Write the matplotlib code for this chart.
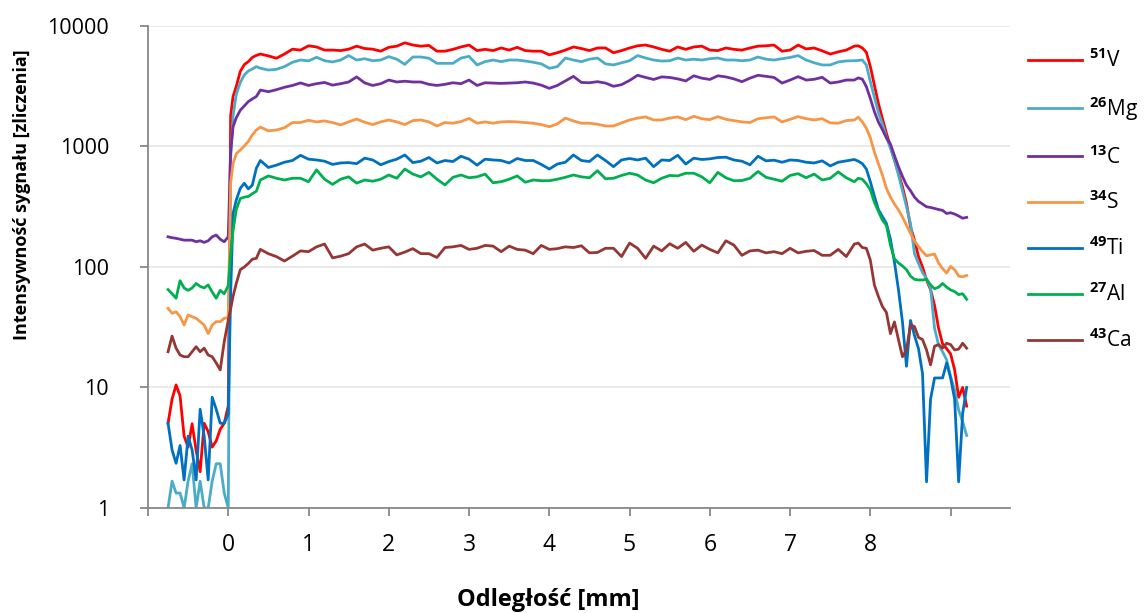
import matplotlib.pyplot as plt
from matplotlib.ticker import NullLocator

# distance along the ablation line [mm]
x_mm = [-0.75, -0.70, -0.65, -0.60, -0.55, -0.50, -0.45, -0.40, -0.35, -0.30, -0.25, -0.20, -0.15, -0.10, -0.05, 0.00,
        0.03, 0.06, 0.10, 0.15, 0.20, 0.25, 0.30, 0.35, 0.40,
        0.5, 0.6, 0.7, 0.8, 0.9, 1.0, 1.1, 1.2, 1.3, 1.4, 1.5, 1.6, 1.7, 1.8, 1.9, 2.0, 2.1, 2.2, 2.3, 2.4, 2.5, 2.6,
        2.7, 2.8, 2.9, 3.0, 3.1, 3.2, 3.3, 3.4, 3.5, 3.6, 3.7, 3.8, 3.9, 4.0, 4.1, 4.2, 4.3, 4.4, 4.5, 4.6,
        4.7, 4.8, 4.9, 5.0, 5.1, 5.2, 5.3, 5.4, 5.5, 5.6, 5.7, 5.8, 5.9, 6.0, 6.1, 6.2, 6.3, 6.4, 6.5, 6.6,
        6.7, 6.8, 6.9, 7.0, 7.1, 7.2, 7.3, 7.4, 7.5, 7.6, 7.7, 7.8,
        7.85, 7.90, 7.95, 8.00, 8.05, 8.10, 8.15, 8.20, 8.25, 8.30, 8.35, 8.40, 8.45, 8.50,
        8.55, 8.60, 8.65, 8.70, 8.75, 8.80, 8.85, 8.90, 8.95, 9.00, 9.05, 9.10, 9.15, 9.20]

v51 = [5.05, 8.0, 10.5, 8.5, 3.95, 3.2, 5.0, 3.0, 2.0, 5.05, 4.3, 3.2, 3.6, 4.5, 5.05, 7,
       1800, 2600, 3150, 4200, 4780, 5060, 5480, 5700, 5850,
       5650, 5400, 5850, 6420, 6310, 6850, 6700, 6310, 6310, 6250, 6420, 6800, 6500, 6420, 6180, 6650, 6800, 7250, 6950, 6800, 6900, 6180,
       6180, 6400, 6700, 6950, 6250, 6400, 6250, 6570, 6310, 6650, 6250, 6180, 6180, 5760, 6000, 6310, 6700, 6500, 6250, 6570,
       6570, 6000, 6250, 6570, 6850, 6950, 6700, 6400, 6180, 6700, 6400, 6700, 6800, 6310, 6250, 6570, 6400, 6310, 6570, 6800,
       6850, 6950, 6180, 6310, 6950, 6450, 6570, 6220, 5850, 6100, 6310, 6800,
       6850, 6570, 6050, 4600, 3240, 2280, 1710, 1290, 995, 772, 600, 464, 338, 216,
       167, 122, 100, 78, 65, 48, 31, 23, 21, 19, 14, 8.3, 10, 7]

mg26 = [1.0, 1.67, 1.33, 1.33, 1.0, 1.67, 2.33, 1.0, 1.67, 1.0, 1.0, 1.67, 2.33, 2.33, 1.33, 1.0,
        800, 1800, 2700, 3400, 3920, 4230, 4400, 4600, 4460,
        4310, 4370, 4600, 5000, 5220, 5130, 5500, 5150, 5030, 5220, 5680, 5220, 5350, 5150, 5220, 5570, 5300, 4800, 5530, 5530, 5400, 4900,
        4900, 4900, 5420, 5600, 4750, 5060, 5220, 5060, 5220, 5220, 5120, 5000, 4850, 4460, 4600, 5420, 5220, 5060, 5300, 5420,
        4850, 4750, 4950, 5150, 5680, 5420, 5220, 5120, 5150, 5420, 5220, 5300, 5220, 5350, 5420, 5220, 5220, 5150, 5220, 5530,
        5300, 5220, 5350, 5480, 5680, 5220, 4950, 4750, 4750, 5030, 5130, 5150,
        5180, 5220, 4750, 3450, 2570, 1920, 1540, 1190, 970, 772, 580, 430, 317, 230,
        129, 107, 90, 80, 67, 31, 22.5, 19.8, 17, 12.3, 9.5, 6.5, 5.2, 4.0]

c13 = [178, 175, 173, 170, 167, 167, 167, 162, 165, 160, 165, 178, 184, 170, 162, 178,
       900, 1460, 1730, 2000, 2170, 2360, 2480, 2600, 2940,
       2850, 2960, 3100, 3210, 3370, 3210, 3320, 3400, 3230, 3320, 3430, 3780, 3370, 3210, 3320, 3560, 3430, 3480, 3430, 3430, 3280, 3210,
       3280, 3380, 3320, 3560, 3210, 3380, 3360, 3340, 3360, 3380, 3430, 3360, 3230, 3040, 3210, 3500, 3820, 3400, 3380, 3450,
       3360, 3160, 3260, 3530, 3900, 3740, 3600, 3780, 3740, 3640, 3500, 3860, 3690, 3600, 3860, 3780, 3640, 3450, 3690, 3900,
       3820, 3740, 3360, 3560, 3800, 3560, 3610, 3750, 3360, 3430, 3560, 3560,
       3710, 3620, 3140, 2500, 1950, 1600, 1380, 1180, 1050, 840, 680, 565, 478, 430,
       380, 350, 333, 316, 312, 306, 300, 295, 278, 282, 275, 265, 254, 258]

s34 = [45.4, 41.3, 42.5, 38.7, 33, 40, 38.7, 37.5, 35.2, 33, 28, 33, 35.2, 35.2, 37.5, 38,
       500, 720, 870, 935, 1010, 1100, 1250, 1370, 1450,
       1350, 1370, 1430, 1580, 1580, 1650, 1600, 1630, 1580, 1510, 1600, 1690, 1590, 1520, 1600, 1660, 1600, 1520, 1640, 1660, 1600, 1480,
       1580, 1560, 1610, 1710, 1560, 1600, 1560, 1600, 1610, 1600, 1580, 1560, 1520, 1460, 1540, 1720, 1630, 1560, 1560, 1530,
       1480, 1480, 1570, 1660, 1720, 1760, 1660, 1660, 1720, 1760, 1670, 1780, 1700, 1670, 1770, 1680, 1640, 1600, 1580, 1700,
       1730, 1760, 1600, 1680, 1770, 1700, 1660, 1700, 1570, 1560, 1640, 1660,
       1750, 1600, 1420, 1180, 900, 720, 580, 450, 380, 333, 298, 260, 222, 190,
       165, 148, 134, 124, 126, 128, 108, 97, 89, 101, 95, 84, 83, 85]

ti49 = [5.05, 3.03, 2.35, 3.3, 1.71, 3.95, 3.03, 1.71, 6.6, 3.95, 1.71, 8.3, 6.6, 5.05, 5.05, 6,
        60, 278, 360, 450, 495, 445, 478, 660, 765,
        670, 700, 740, 765, 845, 785, 773, 755, 710, 730, 735, 720, 800, 773, 705, 750, 785, 850, 735, 755, 810, 730,
        765, 750, 830, 785, 700, 785, 773, 765, 730, 795, 765, 765, 710, 650, 715, 740, 850, 765, 750, 850,
        765, 680, 773, 795, 773, 800, 680, 773, 765, 845, 715, 800, 780, 790, 810, 815, 773, 755, 705, 830,
        760, 770, 740, 773, 765, 740, 730, 760, 690, 740, 760, 780,
        755, 720, 650, 510, 387, 300, 262, 230, 170, 110, 65, 35, 15, 36,
        27, 21, 13, 1.65, 8, 12, 12, 12, 16, 12, 8, 1.65, 6.1, 10]

al27 = [65, 60, 55, 77, 67, 64, 67, 73, 69, 67, 71, 62, 55, 64, 60, 70,
        130, 200, 300, 370, 380, 385, 406, 425, 527,
        570, 545, 527, 545, 545, 510, 640, 535, 485, 535, 560, 496, 527, 515, 535, 580, 545, 650, 590, 560, 610, 535,
        480, 555, 580, 550, 560, 590, 500, 510, 535, 570, 505, 527, 520, 520, 535, 555, 580, 560, 550, 630,
        540, 545, 575, 600, 580, 527, 500, 545, 575, 570, 600, 600, 560, 500, 610, 550, 520, 522, 545, 620,
        555, 535, 515, 575, 595, 550, 590, 527, 545, 615, 550, 510,
        545, 535, 490, 437, 345, 290, 245, 222, 152, 117, 108, 102, 95, 84,
        79, 78, 78, 79, 71, 66, 68, 73, 68, 64.5, 62.5, 59, 60, 54]

ca43 = [19.8, 26.7, 21.2, 18.6, 18, 18, 19.8, 21.8, 19.8, 21.2, 18.6, 18, 16, 14, 24, 36,
        45, 57, 73, 95, 100, 107, 116, 118, 140,
        129, 122, 112, 123, 136, 134, 147, 155, 119, 123, 129, 147, 155, 138, 143, 147, 126, 133, 142, 129, 129, 120,
        145, 147, 151, 140, 143, 151, 149, 134, 149, 140, 138, 129, 151, 140, 142, 147, 145, 150, 131, 132,
        143, 143, 122, 158, 143, 118, 149, 136, 156, 143, 160, 135, 152, 140, 131, 165, 152, 125, 136, 138,
        131, 134, 129, 143, 131, 135, 137, 125, 125, 140, 122, 155,
        158, 145, 143, 114, 71, 57, 47, 42, 28, 35, 25, 18, 20.5, 33,
        32, 26, 25, 20.5, 15.4, 22, 22.7, 21.2, 23.3, 22.7, 20.5, 20.8, 23.3, 21.2]

series = [v51, mg26, c13, s34, ti49, al27, ca43]
labels = [r'$^{\mathbf{51}}$V', r'$^{\mathbf{26}}$Mg', r'$^{\mathbf{13}}$C', r'$^{\mathbf{34}}$S',
          r'$^{\mathbf{49}}$Ti', r'$^{\mathbf{27}}$Al', r'$^{\mathbf{43}}$Ca']
colors = ['#FF0000', '#4BACC6', '#7030A0', '#F79646', '#0070C0', '#00B050', '#953735']

plt.rcParams['font.family'] = ['Open Sans', 'DejaVu Sans']
plt.rcParams['mathtext.fontset'] = 'custom'
plt.rcParams['mathtext.rm'] = 'Open Sans'
plt.rcParams['mathtext.bf'] = 'Open Sans:bold'

fig, ax = plt.subplots(figsize=(11.48, 6.13), dpi=100)
fig.subplots_adjust(left=0.1289, right=0.8798, bottom=0.1713, top=0.9576)

for vals, lab, col in zip(series, labels, colors):
    ax.plot(x_mm, vals, color=col, lw=2.0, label=lab)

ax.set_yscale('log')
ax.set_ylim(1, 10000)
ax.set_xlim(-1.0, 9.74)
ax.set_yticks([1, 10, 100, 1000, 10000])
ax.set_yticklabels(['1', '10', '100', '1000', '10000'])
ax.yaxis.set_minor_locator(NullLocator())
ax.set_xticks(range(-1, 10))
ax.set_xticklabels([''] + [str(i) for i in range(0, 9)] + [''])

ax.grid(axis='y', color='#E8E8E8', lw=1.3)
ax.set_axisbelow(True)
for s in ['top', 'right']:
    ax.spines[s].set_visible(False)
for s in ['left', 'bottom']:
    ax.spines[s].set_color('#888888')
    ax.spines[s].set_linewidth(1.3)
ax.tick_params(axis='both', color='#888888', width=1.3, length=6)
ax.tick_params(axis='x', labelsize=16.5, pad=12)
ax.tick_params(axis='y', labelsize=15.5, pad=22)

fig.text(22.5 / 1148, 1 - 195 / 613, 'Intensywność sygnału [zliczenia]', rotation=90,
         ha='center', va='center', fontsize=13, fontweight='bold')
fig.text(548 / 1148, 1 - 600 / 613, 'Odległość [mm]', ha='center', va='center',
         fontsize=17, fontweight='bold')

ax.legend(loc='upper left', bbox_to_anchor=(1028 / 1148, 1 - 49 / 613), bbox_transform=fig.transFigure,
          frameon=False, fontsize=15, handlelength=2.6, handletextpad=0.35, labelspacing=1.1,
          borderpad=0, borderaxespad=0)

plt.savefig('out.png', dpi=100)
